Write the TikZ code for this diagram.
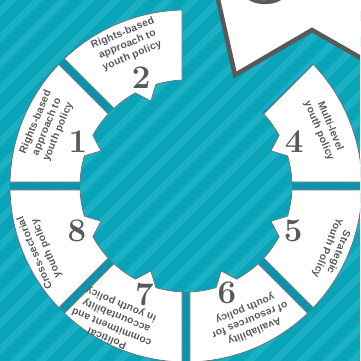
\documentclass[tikz,border=0pt]{standalone}
\usepackage{fontspec}
\newfontfamily\segfont{Liberation Sans}[LetterSpace=2]
\definecolor{bgteal}{HTML}{0AA4B9}
\definecolor{stripeteal}{HTML}{1BB0C3}
\definecolor{ringteal}{HTML}{0A91A8}
\definecolor{inkgray}{HTML}{58595B}
\definecolor{edgegray}{HTML}{6D6E71}
\tikzset{
  segshape/.style={fill=white, draw=edgegray, line width=0.7pt, line join=miter},
  segtext/.style={font=\segfont\fontsize{10.3}{12.2}\selectfont\bfseries, text=inkgray, align=center, inner sep=0pt},
  segnum/.style={font=\fontsize{33}{33}\selectfont\bfseries, text=inkgray, inner sep=0pt},
  bigshape/.style={fill=white, draw=inkgray, line width=4.5pt, line join=miter}
}
\newcommand\ringseg[1]{%
  \pgfmathsetmacro\aAo{#1+22.5-asin(4/176)}%
  \pgfmathsetmacro\aAi{#1+22.5-asin(4/106)}%
  \pgfmathsetmacro\aBo{#1-22.5+asin(4/176)}%
  \pgfmathsetmacro\aBi{#1-22.5+asin(4/106)}%
  \pgfmathsetmacro\tA{#1-6}%
  \pgfmathsetmacro\tB{#1+6}%
  \draw[segshape] (\aAo:176) arc[start angle=\aAo,end angle=\aBo,radius=176]
    -- (\aBi:106) arc[start angle=\aBi,end angle=\tA,radius=106]
    -- (#1:92) -- (\tB:106) arc[start angle=\tB,end angle=\aAi,radius=106] -- cycle;%
}
\begin{document}
\begin{tikzpicture}[x=1pt,y=1pt]
\useasboundingbox (0,0) rectangle (360,361);
\begin{scope}
\clip (0,0) rectangle (360,361);
\fill[bgteal] (0,0) rectangle (360,361);
\foreach \i in {-16,...,15} {
  \fill[stripeteal] (\i*26,-10) -- ++(10,0) -- ++(380,380) -- ++(-10,0) -- cycle;
}
\begin{scope}[shift={(186,175)}]
  \fill[ringteal, opacity=0.85] (44:176) arc[start angle=44,end angle=-268,radius=176]
     -- (92:106) arc[start angle=92,end angle=404,radius=106] -- cycle;
  \ringseg{157.5}
  \ringseg{112.5}
  \ringseg{22.5}
  \ringseg{-22.5}
  \ringseg{-67.5}
  \ringseg{-112.5}
  \ringseg{-157.5}
  \node[segtext, rotate=67.5] (t1) at (157:151) {Rights-based\\approach to\\youth policy};
  \node[segtext, rotate=22.5] (t2) at (112.5:153) {Rights-based\\approach to\\youth policy};
  \node[segtext, rotate=-67.5] (t4) at (22.5:150) {Multi-level\\youth policy};
  \node[segtext, rotate=-112.5] (t5) at (-23.5:160) {Strategic\\Youth Policy};
  \node[segtext, rotate=-157.5] (t6) at (-64.5:148) {Availability\\of resources for\\youth policy};
  \node[segtext, rotate=157.5] (t7) at (-118:153) {Political\\commitment and\\accountability\\in youth policy};
  \node[segtext, rotate=112.5] (t8) at (-156:159) {Cross-sectorial\\youth policy};
  \node[segnum] (n1) at (157.5:117) {1};
  \node[segnum] (n2) at (112.5:117) {2};
  \node[segnum] (n4) at (22.5:117) {4};
  \node[segnum] (n5) at (-22.5:116) {5};
  \node[segnum] (n6) at (-69:114) {6};
  \node[segnum] (n7) at (-111:116) {7};
  \node[segnum] (n8) at (-157.5:118) {8};
\end{scope}
\draw[bigshape] (215,375) -- (235,286) -- (312,331) -- (375,295) -- (375,375) -- cycle;
\node[font=\fontsize{100}{100}\selectfont\bfseries, text=inkgray, anchor=base, inner sep=0pt] (n3) at (267,357) {3};
\end{scope}
\end{tikzpicture}
\end{document}
